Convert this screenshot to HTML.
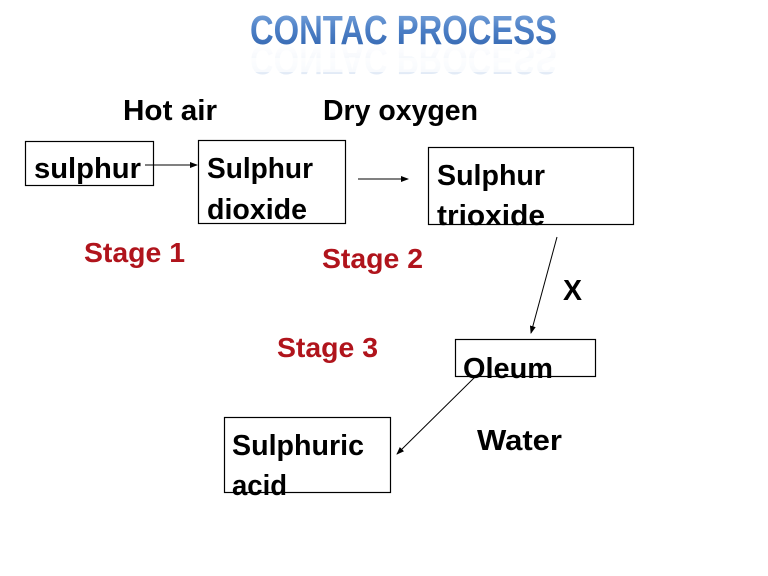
<!DOCTYPE html>
<html><head><meta charset="utf-8"><style>
html,body{margin:0;padding:0;background:#fff;}
svg{display:block;}
text{font-family:"Liberation Sans",sans-serif;font-weight:bold;}
</style></head><body>
<svg width="768" height="576" viewBox="0 0 768 576" xmlns="http://www.w3.org/2000/svg">
<defs>
<linearGradient id="tg" x1="0" y1="0" x2="0" y2="1">
<stop offset="0" stop-color="#86aee0"/>
<stop offset="0.45" stop-color="#4f82c8"/>
<stop offset="1" stop-color="#2f62ad"/>
</linearGradient>
<linearGradient id="rg" x1="0" y1="0" x2="0" y2="1">
<stop offset="0" stop-color="#9bb9e0" stop-opacity="0.75"/>
<stop offset="1" stop-color="#ffffff" stop-opacity="0"/>
</linearGradient>
<marker id="ah" markerWidth="8" markerHeight="6" refX="7" refY="3" orient="auto" markerUnits="userSpaceOnUse">
<path d="M0,0 L8,3 L0,6 z" fill="#000"/>
</marker>
</defs>
<rect width="768" height="576" fill="#fff"/>

<!-- Title -->
<text x="250" y="44" font-size="41" fill="url(#tg)" textLength="307" lengthAdjust="spacingAndGlyphs">CONTAC PROCESS</text>
<g transform="translate(0,90) scale(1,-1)">
<text x="250" y="44" font-size="41" fill="url(#rg)" textLength="307" lengthAdjust="spacingAndGlyphs" opacity="0.6">CONTAC PROCESS</text>
</g>
<rect x="240" y="58" width="330" height="14" fill="#fff" opacity="0.7"/>

<!-- top labels -->
<text x="123" y="120" font-size="29" fill="#000" textLength="94" lengthAdjust="spacingAndGlyphs">Hot air</text>
<text x="323" y="120" font-size="29" fill="#000" textLength="155" lengthAdjust="spacingAndGlyphs">Dry oxygen</text>

<!-- boxes -->
<g fill="none" stroke="#000" stroke-width="1.2">
<rect x="25.5" y="141.5" width="128" height="44"/>
<rect x="198.5" y="140.5" width="147" height="83"/>
<rect x="428.5" y="147.5" width="205" height="77"/>
<rect x="455.5" y="339.5" width="140" height="37"/>
<rect x="224.5" y="417.5" width="166" height="75"/>
</g>

<!-- arrows -->
<g stroke="#000" stroke-width="1" fill="none">
<line x1="145" y1="165" x2="197" y2="165" marker-end="url(#ah)"/>
<line x1="358" y1="179" x2="408" y2="179" marker-end="url(#ah)"/>
<line x1="557" y1="237" x2="531" y2="333" marker-end="url(#ah)"/>
<line x1="475" y1="377" x2="397" y2="454" marker-end="url(#ah)"/>
</g>

<!-- box texts -->
<g font-size="29" fill="#000">
<text x="34" y="178" textLength="107" lengthAdjust="spacingAndGlyphs">sulphur</text>
<text x="207" y="178" textLength="106" lengthAdjust="spacingAndGlyphs">Sulphur</text>
<text x="207" y="219" textLength="100" lengthAdjust="spacingAndGlyphs">dioxide</text>
<text x="437" y="185" textLength="108" lengthAdjust="spacingAndGlyphs">Sulphur</text>
<text x="437" y="225" textLength="108" lengthAdjust="spacingAndGlyphs">trioxide</text>
<text x="463" y="378" textLength="90" lengthAdjust="spacingAndGlyphs">Oleum</text>
<text x="232" y="455" textLength="132" lengthAdjust="spacingAndGlyphs">Sulphuric</text>
<text x="232" y="495" textLength="55" lengthAdjust="spacingAndGlyphs">acid</text>
<text x="563" y="300" textLength="19" lengthAdjust="spacingAndGlyphs">X</text>
<text x="477" y="450" textLength="85" lengthAdjust="spacingAndGlyphs">Water</text>
</g>

<!-- stage labels -->
<g font-size="28" fill="#b0141c">
<text x="84" y="262" textLength="101" lengthAdjust="spacingAndGlyphs">Stage 1</text>
<text x="322" y="268" textLength="101" lengthAdjust="spacingAndGlyphs">Stage 2</text>
<text x="277" y="357" textLength="101" lengthAdjust="spacingAndGlyphs">Stage 3</text>
</g>
</svg>
</body></html>
